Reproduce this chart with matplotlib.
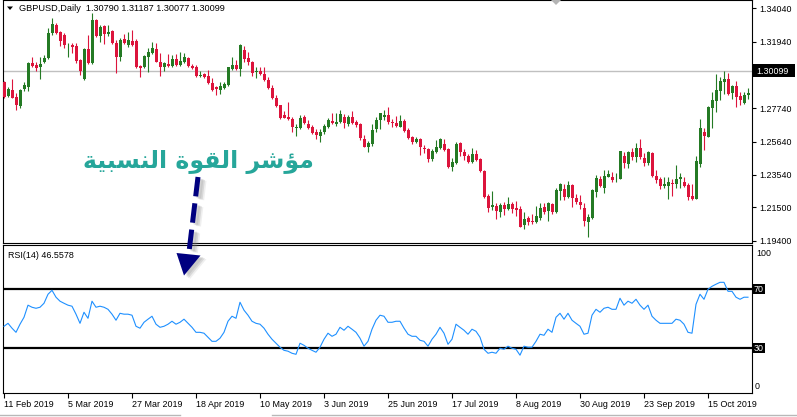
import matplotlib
matplotlib.use("Agg")
import matplotlib.pyplot as plt
import numpy as np
from matplotlib.patches import Polygon, Rectangle

plt.rcParams['font.family'] = ['Liberation Sans', 'DejaVu Sans']

# ---------------- data ----------------
opens = np.array([
    1.2941, 1.2853, 1.2889, 1.2843, 1.2788, 1.2895, 1.2906, 1.3062, 1.3047, 1.3033,
    1.3068, 1.3090, 1.3247, 1.3299, 1.3257, 1.3236, 1.3171, 1.3173, 1.3167, 1.3079,
    1.2959, 1.3146, 1.3062, 1.3331, 1.3230, 1.3293, 1.3243, 1.3264, 1.3184, 1.3100,
    1.3211, 1.3173, 1.3199, 1.3201, 1.3041, 1.3033, 1.3096, 1.3121, 1.3146, 1.3068,
    1.3033, 1.3054, 1.3041, 1.3083, 1.3047, 1.3064, 1.3090, 1.3041, 1.3033, 1.2980,
    1.2989, 1.2980, 1.2931, 1.2906, 1.2889, 1.2904, 1.2920, 1.3022, 1.3047, 1.3022,
    1.3142, 1.3093, 1.3068, 1.3003, 1.3010, 1.2991, 1.2952, 1.2904, 1.2840, 1.2794,
    1.2731, 1.2721, 1.2706, 1.2648, 1.2652, 1.2721, 1.2673, 1.2654, 1.2622, 1.2601,
    1.2622, 1.2658, 1.2694, 1.2673, 1.2685, 1.2719, 1.2673, 1.2721, 1.2685, 1.2673,
    1.2580, 1.2532, 1.2547, 1.2641, 1.2700, 1.2719, 1.2729, 1.2689, 1.2679, 1.2658,
    1.2694, 1.2637, 1.2591, 1.2559, 1.2580, 1.2525, 1.2517, 1.2454, 1.2496, 1.2521,
    1.2549, 1.2517, 1.2406, 1.2427, 1.2553, 1.2500, 1.2475, 1.2437, 1.2486, 1.2454,
    1.2379, 1.2223, 1.2153, 1.2160, 1.2118, 1.2164, 1.2139, 1.2171, 1.2144, 1.2139,
    1.2038, 1.2080, 1.2065, 1.2059, 1.2080, 1.2150, 1.2126, 1.2171, 1.2122, 1.2254,
    1.2263, 1.2213, 1.2290, 1.2210, 1.2185, 1.2147, 1.2059, 1.2080, 1.2248, 1.2328,
    1.2270, 1.2343, 1.2343, 1.2333, 1.2328, 1.2473, 1.2423, 1.2496, 1.2469, 1.2522,
    1.2462, 1.2431, 1.2494, 1.2347, 1.2328, 1.2284, 1.2284, 1.2305, 1.2297, 1.2326,
    1.2311, 1.2290, 1.2221, 1.2202, 1.2423, 1.2626, 1.2595, 1.2778, 1.2822, 1.2883,
    1.2941, 1.2959, 1.2868, 1.2914, 1.2852, 1.2806, 1.2858])

highs = np.array([
    1.2948, 1.2910, 1.2959, 1.2872, 1.2895, 1.2941, 1.3068, 1.3100, 1.3068, 1.3100,
    1.3110, 1.3279, 1.3342, 1.3310, 1.3264, 1.3251, 1.3188, 1.3184, 1.3184, 1.3083,
    1.3153, 1.3236, 1.3377, 1.3335, 1.3299, 1.3299, 1.3299, 1.3268, 1.3205, 1.3216,
    1.3243, 1.3257, 1.3268, 1.3211, 1.3047, 1.3110, 1.3153, 1.3190, 1.3184, 1.3121,
    1.3068, 1.3117, 1.3110, 1.3117, 1.3127, 1.3121, 1.3100, 1.3052, 1.3047, 1.3010,
    1.2995, 1.3016, 1.2963, 1.2916, 1.2937, 1.2941, 1.3037, 1.3096, 1.3079, 1.3178,
    1.3169, 1.3127, 1.3073, 1.3033, 1.3037, 1.3037, 1.2974, 1.2920, 1.2857, 1.2797,
    1.2757, 1.2815, 1.2721, 1.2673, 1.2731, 1.2731, 1.2700, 1.2669, 1.2643, 1.2641,
    1.2673, 1.2711, 1.2742, 1.2742, 1.2763, 1.2736, 1.2731, 1.2757, 1.2700, 1.2679,
    1.2605, 1.2568, 1.2673, 1.2721, 1.2744, 1.2763, 1.2780, 1.2706, 1.2725, 1.2731,
    1.2706, 1.2648, 1.2601, 1.2591, 1.2585, 1.2542, 1.2525, 1.2517, 1.2574, 1.2585,
    1.2580, 1.2525, 1.2463, 1.2563, 1.2559, 1.2517, 1.2484, 1.2525, 1.2511, 1.2463,
    1.2385, 1.2232, 1.2253, 1.2175, 1.2175, 1.2181, 1.2217, 1.2181, 1.2189, 1.2158,
    1.2118, 1.2097, 1.2107, 1.2158, 1.2179, 1.2179, 1.2185, 1.2179, 1.2273, 1.2303,
    1.2297, 1.2317, 1.2297, 1.2232, 1.2227, 1.2175, 1.2107, 1.2262, 1.2354, 1.2347,
    1.2385, 1.2385, 1.2370, 1.2364, 1.2507, 1.2500, 1.2507, 1.2522, 1.2557, 1.2580,
    1.2490, 1.2505, 1.2498, 1.2385, 1.2339, 1.2343, 1.2339, 1.2328, 1.2416, 1.2364,
    1.2339, 1.2305, 1.2297, 1.2473, 1.2705, 1.2648, 1.2786, 1.2875, 1.2990, 1.2970,
    1.3010, 1.2995, 1.2920, 1.2946, 1.2879, 1.2875, 1.2900])

lows = np.array([
    1.2837, 1.2843, 1.2837, 1.2765, 1.2774, 1.2885, 1.2885, 1.3033, 1.3010, 1.2959,
    1.3062, 1.3085, 1.3236, 1.3243, 1.3167, 1.3153, 1.3096, 1.3121, 1.3062, 1.2984,
    1.2952, 1.3054, 1.3054, 1.3226, 1.3194, 1.3178, 1.3230, 1.3178, 1.2999, 1.3075,
    1.3178, 1.3159, 1.3167, 1.3027, 1.2974, 1.3031, 1.3005, 1.3117, 1.3064, 1.2980,
    1.3010, 1.3033, 1.3037, 1.3041, 1.3041, 1.3062, 1.3037, 1.3022, 1.2970, 1.2974,
    1.2963, 1.2925, 1.2885, 1.2857, 1.2864, 1.2895, 1.2914, 1.3016, 1.3016, 1.2980,
    1.3068, 1.3047, 1.2980, 1.2963, 1.2984, 1.2948, 1.2895, 1.2833, 1.2784, 1.2706,
    1.2711, 1.2700, 1.2622, 1.2601, 1.2643, 1.2673, 1.2643, 1.2610, 1.2580, 1.2559,
    1.2610, 1.2652, 1.2673, 1.2664, 1.2679, 1.2652, 1.2664, 1.2673, 1.2658, 1.2574,
    1.2528, 1.2500, 1.2538, 1.2622, 1.2641, 1.2700, 1.2675, 1.2658, 1.2658, 1.2654,
    1.2626, 1.2580, 1.2549, 1.2553, 1.2479, 1.2494, 1.2437, 1.2444, 1.2490, 1.2515,
    1.2505, 1.2396, 1.2379, 1.2423, 1.2475, 1.2448, 1.2427, 1.2427, 1.2442, 1.2370,
    1.2210, 1.2118, 1.2133, 1.2076, 1.2087, 1.2101, 1.2133, 1.2112, 1.2097, 1.2023,
    1.2013, 1.2038, 1.2044, 1.2053, 1.2070, 1.2106, 1.2063, 1.2107, 1.2112, 1.2196,
    1.2196, 1.2206, 1.2154, 1.2171, 1.2137, 1.2034, 1.1961, 1.2076, 1.2213, 1.2280,
    1.2238, 1.2339, 1.2311, 1.2307, 1.2326, 1.2396, 1.2396, 1.2448, 1.2437, 1.2454,
    1.2410, 1.2416, 1.2343, 1.2301, 1.2265, 1.2273, 1.2202, 1.2223, 1.2270, 1.2270,
    1.2280, 1.2196, 1.2196, 1.2200, 1.2406, 1.2511, 1.2591, 1.2648, 1.2749, 1.2826,
    1.2864, 1.2857, 1.2833, 1.2784, 1.2794, 1.2801, 1.2833])

closes = np.array([
    1.2843, 1.2895, 1.2840, 1.2794, 1.2889, 1.2920, 1.3062, 1.3041, 1.3027, 1.3054,
    1.3090, 1.3247, 1.3304, 1.3247, 1.3201, 1.3173, 1.3173, 1.3163, 1.3073, 1.3012,
    1.3146, 1.3062, 1.3331, 1.3230, 1.3285, 1.3243, 1.3257, 1.3184, 1.3100, 1.3205,
    1.3184, 1.3205, 1.3173, 1.3033, 1.3027, 1.3104, 1.3131, 1.3153, 1.3068, 1.3033,
    1.3058, 1.3041, 1.3083, 1.3047, 1.3075, 1.3096, 1.3041, 1.3027, 1.2980, 1.2984,
    1.2970, 1.2931, 1.2889, 1.2893, 1.2914, 1.2925, 1.3033, 1.3047, 1.3022, 1.3173,
    1.3085, 1.3068, 1.2999, 1.3005, 1.2991, 1.2952, 1.2900, 1.2837, 1.2790, 1.2711,
    1.2714, 1.2704, 1.2658, 1.2658, 1.2711, 1.2679, 1.2648, 1.2616, 1.2605, 1.2626,
    1.2664, 1.2700, 1.2679, 1.2689, 1.2736, 1.2679, 1.2719, 1.2679, 1.2669, 1.2585,
    1.2532, 1.2553, 1.2640, 1.2700, 1.2742, 1.2729, 1.2685, 1.2683, 1.2664, 1.2694,
    1.2633, 1.2588, 1.2563, 1.2578, 1.2528, 1.2515, 1.2454, 1.2505, 1.2532, 1.2580,
    1.2511, 1.2406, 1.2437, 1.2549, 1.2500, 1.2475, 1.2437, 1.2484, 1.2448, 1.2379,
    1.2217, 1.2147, 1.2164, 1.2126, 1.2164, 1.2139, 1.2169, 1.2139, 1.2133, 1.2027,
    1.2076, 1.2055, 1.2059, 1.2095, 1.2143, 1.2122, 1.2175, 1.2118, 1.2259, 1.2297,
    1.2213, 1.2290, 1.2210, 1.2185, 1.2164, 1.2065, 1.2090, 1.2259, 1.2333, 1.2284,
    1.2347, 1.2360, 1.2322, 1.2337, 1.2505, 1.2427, 1.2496, 1.2469, 1.2522, 1.2465,
    1.2431, 1.2496, 1.2347, 1.2322, 1.2284, 1.2297, 1.2307, 1.2299, 1.2326, 1.2339,
    1.2284, 1.2217, 1.2202, 1.2444, 1.2648, 1.2599, 1.2784, 1.2826, 1.2889, 1.2946,
    1.2959, 1.2864, 1.2914, 1.2843, 1.2826, 1.2858, 1.2869])

rsi = np.array([
    44.9, 46.9, 43.6, 40.8, 46.3, 51.0, 59.2, 57.8, 57.1, 57.8,
    60.5, 66.6, 69.3, 64.6, 61.9, 60.5, 59.2, 58.5, 53.1, 46.9,
    54.4, 50.3, 61.9, 57.8, 58.5, 57.8, 56.4, 53.1, 49.0, 53.7,
    53.1, 53.1, 52.4, 44.9, 43.6, 47.6, 49.7, 51.7, 46.3, 44.2,
    44.9, 46.3, 48.3, 46.3, 47.6, 49.7, 46.9, 44.2, 40.8, 40.8,
    40.2, 37.5, 34.7, 34.7, 36.8, 40.8, 48.3, 51.7, 50.3, 61.2,
    55.8, 52.4, 48.3, 46.9, 46.3, 43.6, 39.5, 36.1, 33.4, 30.7,
    28.6, 28.0, 26.6, 25.9, 33.4, 32.0, 30.0, 28.6, 27.3, 30.7,
    36.1, 40.2, 38.1, 39.5, 44.2, 42.2, 44.9, 42.9, 40.8, 36.8,
    31.4, 34.7, 42.9, 49.0, 52.4, 51.7, 47.6, 47.6, 48.3, 48.3,
    43.6, 39.5, 38.1, 38.1, 35.4, 34.7, 31.4, 36.1, 39.5, 44.2,
    40.2, 32.7, 36.1, 46.3, 44.2, 42.2, 39.5, 42.9, 41.5, 37.5,
    29.3, 26.6, 27.3, 26.6, 30.0, 29.3, 31.4, 30.0, 29.3, 25.3,
    31.4, 30.7, 30.7, 34.7, 39.5, 38.8, 42.9, 40.8, 51.0, 53.7,
    49.7, 53.7, 49.0, 46.9, 44.9, 39.5, 40.2, 52.4, 56.4, 54.4,
    57.1, 57.8, 56.4, 56.4, 63.9, 59.2, 61.9, 60.5, 63.2, 59.2,
    56.4, 59.2, 51.7, 49.0, 46.9, 46.9, 46.9, 46.9, 49.7, 49.0,
    46.3, 40.8, 40.2, 59.8, 66.6, 63.2, 70.0, 72.0, 73.4, 74.7,
    74.7, 68.6, 68.6, 64.6, 63.2, 64.6, 64.6])

date_labels = ["11 Feb 2019", "5 Mar 2019", "27 Mar 2019", "18 Apr 2019",
               "10 May 2019", "3 Jun 2019", "25 Jun 2019", "17 Jul 2019",
               "8 Aug 2019", "30 Aug 2019", "23 Sep 2019", "15 Oct 2019"]
price_ticks = [1.19400, 1.21500, 1.23540, 1.25640, 1.27740, 1.29840, 1.31940, 1.34040]
current_price = 1.30099
rsi_levels = [70, 30]
title_text = "GBPUSD,Daily  1.30790 1.31187 1.30077 1.30099"
rsi_text = "RSI(14) 46.5578"
arabic_label = "مؤشر القوة النسبية"

# ---------------- simple Arabic shaping (presentation forms) ----------------
FORMS = {  # isolated, final, initial, medial
    'ا': ('\uFE8D', '\uFE8E', None, None),
    'ل': ('\uFEDD', '\uFEDE', '\uFEDF', '\uFEE0'),
    'ق': ('\uFED5', '\uFED6', '\uFED7', '\uFED8'),
    'و': ('\uFEED', '\uFEEE', None, None),
    'ة': ('\uFE93', '\uFE94', None, None),
    'ن': ('\uFEE5', '\uFEE6', '\uFEE7', '\uFEE8'),
    'س': ('\uFEB1', '\uFEB2', '\uFEB3', '\uFEB4'),
    'ب': ('\uFE8F', '\uFE90', '\uFE91', '\uFE92'),
    'ي': ('\uFEF1', '\uFEF2', '\uFEF3', '\uFEF4'),
    'م': ('\uFEE1', '\uFEE2', '\uFEE3', '\uFEE4'),
    'ؤ': ('\uFE85', '\uFE86', None, None),
    'ش': ('\uFEB5', '\uFEB6', '\uFEB7', '\uFEB8'),
    'ر': ('\uFEAD', '\uFEAE', None, None),
}


def shape_arabic(s):
    out = []
    for i, c in enumerate(s):
        if c not in FORMS:
            out.append(c)
            continue
        prev = s[i - 1] if i > 0 else ' '
        nxt = s[i + 1] if i + 1 < len(s) else ' '
        prev_joins = prev in FORMS and FORMS[prev][2] is not None
        dual = FORMS[c][2] is not None
        next_joins = dual and nxt in FORMS
        if prev_joins and next_joins:
            out.append(FORMS[c][3])
        elif prev_joins:
            out.append(FORMS[c][1])
        elif next_joins:
            out.append(FORMS[c][2])
        else:
            out.append(FORMS[c][0])
    return ''.join(out)[::-1]


# ---------------- figure ----------------
W, H = 797, 417
fig = plt.figure(figsize=(W / 100, H / 100), dpi=100)
fig.patch.set_facecolor('white')


def fx(px):
    return px / W


def fy(py):
    return 1 - py / H


ax1 = fig.add_axes([fx(3), fy(243), fx(752) - fx(3), fy(0) - fy(243)])
ax2 = fig.add_axes([fx(3), fy(392.5), fx(752) - fx(3), fy(245) - fy(392.5)])

n = len(closes)
x = np.arange(n)
UP, DN = '#247a24', '#dc143c'
colors = np.where(closes >= opens, UP, DN)

ax1.vlines(x, lows, highs, colors=colors, linewidth=0.8, zorder=2)
body_bottom = np.minimum(opens, closes)
body_h = np.maximum(np.abs(closes - opens), 0.0004)
ax1.bar(x, body_h, width=0.75, bottom=body_bottom, color=colors, linewidth=0, zorder=3)
ax1.axhline(current_price, color='#c0c0c0', lw=1.0, zorder=1)

ax1.set_xlim(-0.25, 187)
ax1.set_ylim(1.19246, 1.3457)
ax1.set_xticks([])
ax1.yaxis.tick_right()
ax1.set_yticks(price_ticks)
# the 1.29840 label sits behind the current-price box in the reference
ax1.set_yticklabels(["" if abs(v - 1.29840) < 1e-6 else f"{v:.5f}" for v in price_ticks])
ax1.tick_params(axis='y', direction='out', length=3, width=0.8, pad=2.5,
                labelsize=6.4, colors='black')

ax2.plot(x, rsi, color='#1e90ff', lw=0.8, zorder=3)
for lv in rsi_levels:
    ax2.axhline(lv, color='black', lw=1.6, zorder=2)
ax2.set_xlim(-0.25, 187)
ax2.set_ylim(0, 100)
ax2.set_yticks([])
ax2.set_xticks(range(0, n, 16))
ax2.set_xticklabels(date_labels, ha='left')
ax2.tick_params(axis='x', direction='out', length=3.5, width=0.8, pad=2.2,
                labelsize=6.4)

for ax in (ax1, ax2):
    for sp in ax.spines.values():
        sp.set_color('black')
        sp.set_linewidth(0.8)

# ---------------- overlay (pixel coordinates) ----------------
ov = fig.add_axes([0, 0, 1, 1], zorder=10)
ov.set_xlim(0, W)
ov.set_ylim(H, 0)
ov.axis('off')
ov.patch.set_alpha(0)

fig.canvas.draw()


def px_y(ax, val):
    return H - ax.transData.transform((0, val))[1]


# current price label
yp = px_y(ax1, current_price)
ov.add_patch(Rectangle((752.5, yp - 6.5), 43, 13, color='black', lw=0))
ov.text(756.5, yp + 0.3, f"{current_price:.5f}", color='white', fontsize=6.4,
        va='center', ha='left')

# RSI level labels
for lv in rsi_levels:
    yl = px_y(ax2, lv)
    ov.add_patch(Rectangle((753, yl - 5), 12, 10, color='black', lw=0))
    ov.text(754, yl + 0.3, str(lv), color='white', fontsize=6.4, va='center', ha='left')
ov.text(756, px_y(ax2, 100) + 8, "100", fontsize=6.4, va='center', ha='left')
ov.text(755, px_y(ax2, 0) - 6, "0", fontsize=6.4, va='center', ha='left')

# title and indicator label
ov.add_patch(Polygon([[7, 6.5], [13, 6.5], [10, 10]], closed=True, color='black', lw=0))
ov.text(19, 8.5, title_text, fontsize=6.6, va='center', ha='left')
ov.text(8, 255, rsi_text, fontsize=6.4, va='center', ha='left')
ov.add_patch(Polygon([[551, 0], [561, 0], [556, 5]], closed=True, color='#b4b4b4', lw=0))

# window tab strip at the very bottom
ov.plot([0, 180], [414.5, 414.5], color='#b8b8b8', lw=1.0)
ov.plot([272, W], [414.5, 414.5], color='#b8b8b8', lw=1.0)

# Arabic annotation
ov.text(198, 168, shape_arabic(arabic_label), color='#26a69a', fontsize=17,
        fontweight='bold', ha='center', va='baseline', family=['DejaVu Sans'])

# dashed arrow with soft shadow
shaft = ([198, 189], [177, 252])
for off, a in ((3, 0.18), (4.5, 0.2), (6, 0.12)):
    ov.plot([s + off for s in shaft[0]], [s + off * 0.6 for s in shaft[1]],
            color='#808080', lw=3.6, alpha=a, linestyle=(0, (3.9, 1.4)),
            dash_capstyle='butt')
    ov.add_patch(Polygon([[176.5 + off, 253 + off * 0.6], [200.5 + off, 255.5 + off * 0.6],
                          [184 + off, 275.5 + off * 0.6]], closed=True,
                         color='#808080', alpha=a, lw=0))
ov.plot(shaft[0], shaft[1], color='#000080', lw=3.6, linestyle=(0, (3.9, 1.4)),
        dash_capstyle='butt')
ov.add_patch(Polygon([[176.5, 253], [200.5, 255.5], [184, 275.5]], closed=True,
                     color='#000080', lw=0))

fig.savefig('out.png', dpi=100, facecolor='white')
